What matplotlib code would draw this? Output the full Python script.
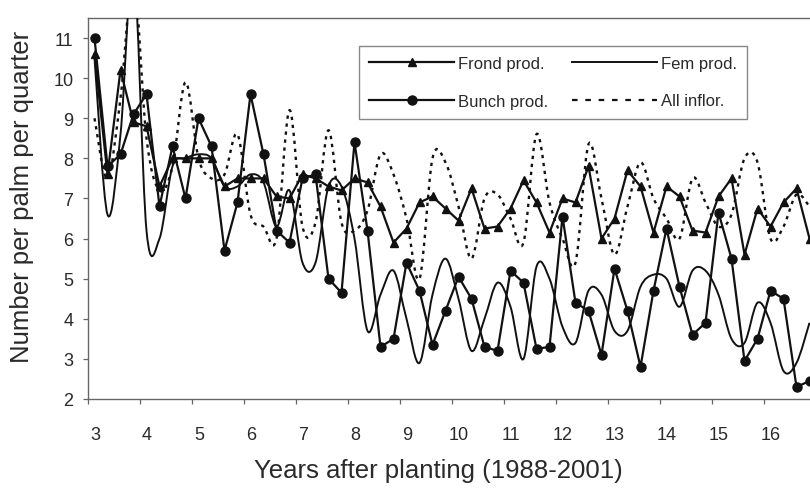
import matplotlib
matplotlib.use('Agg')
import matplotlib.pyplot as plt
import matplotlib.lines as mlines
import numpy as np
from matplotlib.path import Path
from matplotlib.patches import PathPatch
from matplotlib.transforms import ScaledTranslation

plt.rcParams['font.family'] = ['Liberation Sans', 'DejaVu Sans']

# quarterly records, 56 quarters (1988-2001), plotted at mid-quarter
quarter_years = 3.125 + 0.25 * np.arange(56)

frond_prod = [10.6, 7.6, 10.2, 8.9, 8.8, 7.3, 8.0, 8.0, 8.0, 8.0, 7.3, 7.5, 7.5, 7.5,
              7.05, 7.0, 7.6, 7.5, 7.3, 7.2, 7.5, 7.4, 6.8, 5.9, 6.25, 6.9, 7.05, 6.75,
              6.45, 7.25, 6.25, 6.3, 6.75, 7.45, 6.9, 6.15, 7.0, 6.9, 7.8, 6.0, 6.5, 7.7,
              7.3, 6.15, 7.3, 7.05, 6.2, 6.15, 7.05, 7.5, 5.6, 6.75, 6.3, 6.9, 7.25, 6.0]
fem_prod = [10.5, 6.6, 8.6, 12.8, 6.2, 6.0, 7.8, 8.0, 8.1, 8.0, 7.3, 7.3, 7.6, 7.4,
            6.3, 7.2, 5.4, 5.4, 7.3, 7.3, 6.0, 3.7, 4.6, 5.2, 4.0, 2.9, 4.6, 5.5,
            4.5, 3.2, 4.0, 4.9, 4.3, 3.0, 5.3, 5.0, 3.8, 3.4, 4.7, 4.6, 3.7, 3.7,
            4.8, 5.1, 5.0, 4.3, 5.2, 5.2, 4.6, 3.5, 3.4, 4.4, 3.9, 2.7, 2.9, 3.9]
bunch_prod = [11.0, 7.8, 8.1, 9.1, 9.6, 6.8, 8.3, 7.0, 9.0, 8.3, 5.7, 6.9, 9.6, 8.1,
              6.2, 5.9, 7.5, 7.6, 5.0, 4.65, 8.4, 6.2, 3.3, 3.5, 5.4, 4.7, 3.35, 4.2,
              5.05, 4.5, 3.3, 3.2, 5.2, 4.9, 3.25, 3.3, 6.55, 4.4, 4.2, 3.1, 5.25, 4.2,
              2.8, 4.7, 6.25, 4.8, 3.6, 3.9, 6.65, 5.5, 2.95, 3.5, 4.7, 4.5, 2.3, 2.45]
all_inflor = [9.0, 7.5, 9.5, 12.5, 8.5, 7.2, 7.8, 9.9, 8.0, 7.5, 7.6, 8.6, 6.6, 6.3,
              6.0, 9.2, 6.3, 6.4, 8.7, 6.4, 6.2, 6.7, 8.1, 7.6, 6.5, 5.0, 8.0, 7.9,
              6.8, 5.5, 7.0, 7.1, 6.5, 5.9, 8.6, 6.9, 6.0, 5.4, 8.35, 7.0, 5.6, 6.8,
              7.9, 7.0, 6.5, 6.0, 7.5, 6.9, 6.3, 6.6, 8.0, 7.9, 6.0, 6.3, 7.1, 6.8]

year_ticks = list(range(3, 17))

INK = '#111111'
TEXT = '#2a2a2a'
SPINE = '#666666'


def smooth_path(xs, ys):
    """Catmull-Rom curve through the points, as cubic Bezier segments."""
    pts = np.column_stack([xs, ys]).astype(float)
    n = len(pts)
    verts = [pts[0]]
    codes = [Path.MOVETO]
    for i in range(n - 1):
        p0 = pts[i - 1] if i > 0 else pts[i]
        p1, p2 = pts[i], pts[i + 1]
        p3 = pts[i + 2] if i + 2 < n else pts[i + 1]
        verts += [p1 + (p2 - p0) / 6, p2 - (p3 - p1) / 6, p2]
        codes += [Path.CURVE4] * 3
    return Path(verts, codes)


fig = plt.figure(figsize=(8.1, 4.89), dpi=100)
ax = fig.add_axes([88 / 810, 89 / 489, 728 / 810, 381 / 489])

dotted = (0, (1.4, 2.0))
ax.add_patch(PathPatch(smooth_path(quarter_years, all_inflor), fill=False,
                       edgecolor=INK, linewidth=1.7, linestyle=dotted, zorder=2))
ax.add_patch(PathPatch(smooth_path(quarter_years, fem_prod), fill=False,
                       edgecolor=INK, linewidth=1.4, zorder=3))
ax.plot(quarter_years, frond_prod, color=INK, linewidth=1.6, marker='^',
        markersize=6, zorder=4)
ax.plot(quarter_years, bunch_prod, color=INK, linewidth=1.6, marker='o',
        markersize=6.5, zorder=5)

ax.set_xlim(3, 17)
ax.set_ylim(2, 11.5)
ax.set_xticks(year_ticks)
ax.set_xticklabels([str(y) for y in year_ticks])
ax.set_yticks(range(2, 12))

for side in ('left', 'bottom', 'top'):
    ax.spines[side].set_color(SPINE)
    ax.spines[side].set_linewidth(1.0)
ax.spines['right'].set_visible(False)

ax.tick_params(axis='both', direction='out', length=3.5, width=0.9, color=SPINE,
               labelsize=13, labelcolor=TEXT)
ax.tick_params(axis='x', pad=16)
ax.tick_params(axis='y', pad=7)
shift = ScaledTranslation(0.07, 0, fig.dpi_scale_trans)
for lab in ax.get_xticklabels():
    lab.set_transform(lab.get_transform() + shift)

fig.text(438 / 810, 1 - 471 / 489, 'Years after planting (1988-2001)', ha='center',
         va='center', fontsize=18.5, color=TEXT)
fig.text(22 / 810, 1 - 197 / 489, 'Number per palm per quarter', ha='center',
         va='center', rotation=90, fontsize=18.5, color=TEXT)

handles = [
    mlines.Line2D([], [], color=INK, linewidth=1.6, marker='^', markersize=6, label='Frond prod.'),
    mlines.Line2D([], [], color=INK, linewidth=1.6, marker='o', markersize=6.5, label='Bunch prod.'),
    mlines.Line2D([], [], color=INK, linewidth=1.4, label='Fem prod.'),
    mlines.Line2D([], [], color=INK, linewidth=1.6, linestyle=(0, (2.5, 3.5)), label='All inflor.'),
]
leg = ax.legend(handles=handles, ncol=2, loc='upper left',
                bbox_to_anchor=(359 / 810, 1 - 47 / 489), bbox_transform=fig.transFigure,
                borderaxespad=0, fontsize=12, handlelength=5.1, handletextpad=0.25,
                columnspacing=1.4, labelspacing=1.35, borderpad=0.6, fancybox=False,
                framealpha=1, edgecolor='#888888', numpoints=1)
leg.get_frame().set_linewidth(1.0)
for t in leg.get_texts():
    t.set_color(TEXT)

fig.savefig('out.png', dpi=100)
